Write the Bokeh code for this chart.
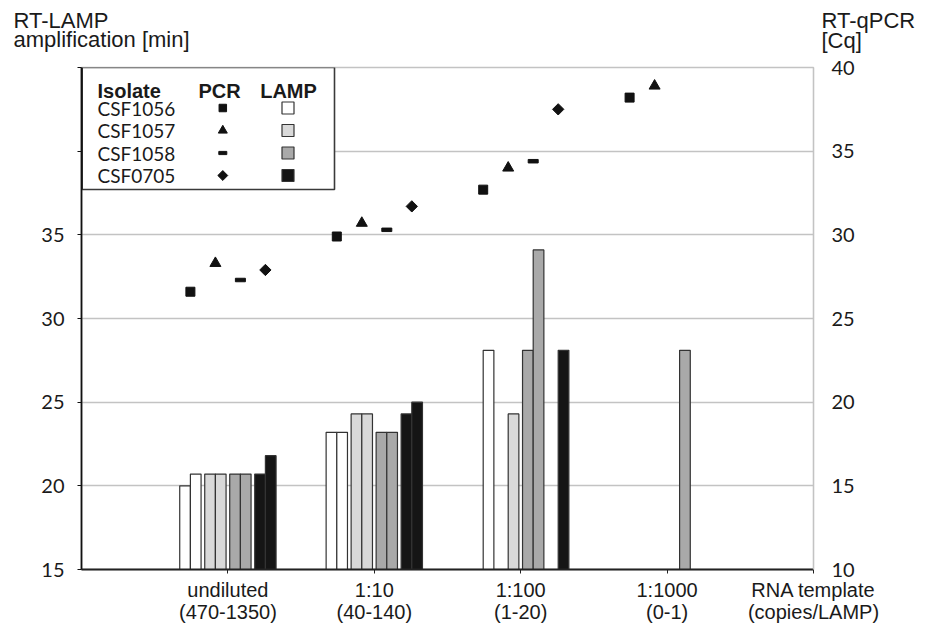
import numpy as np
from bokeh.plotting import figure
from bokeh.layouts import column
from bokeh.models import Range1d, LinearAxis, FixedTicker, ColumnDataSource
from bokeh.core.properties import value
from bokeh.embed import file_html
from bokeh.resources import INLINE

# ---------------- data ----------------
dilutions = ["undiluted\n(470-1350)", "1:10\n(40-140)", "1:100\n(1-20)", "1:1000\n(0-1)"]
template_label = "RNA template\n(copies/LAMP)"
isolates = ["CSF1056", "CSF1057", "CSF1058", "CSF0705"]
left_title = ["RT-LAMP", "amplification [min]"]
right_title = ["RT-qPCR", "[Cq]"]

# RT-LAMP amplification time [min], two replicates per isolate (None = no amplification)
lamp_csf1056_a = [20.0, 23.2, None, None]
lamp_csf1056_b = [20.7, 23.2, 28.1, None]
lamp_csf1057_a = [20.7, 24.3, None, None]
lamp_csf1057_b = [20.7, 24.3, 24.3, None]
lamp_csf1058_a = [20.7, 23.2, 28.1, None]
lamp_csf1058_b = [20.7, 23.2, 34.1, 28.1]
lamp_csf0705_a = [20.7, 24.3, None, None]
lamp_csf0705_b = [21.8, 25.0, 28.1, None]

# RT-qPCR Cq values
pcr_csf1056 = [26.6, 29.9, 32.7, 38.2]
pcr_csf1057 = [28.3, 30.7, 34.0, 38.9]
pcr_csf1058 = [27.3, 30.3, 34.4, None]
pcr_csf0705 = [27.9, 31.7, 37.5, None]

left_ticks = [15, 20, 25, 30, 35, 40, 45]
left_labels_hidden = [40, 45]
right_ticks = [10, 15, 20, 25, 30, 35, 40]

# ---------------- styling / layout ----------------
lamp_colors = ["#ffffff", "#d9d9d9", "#a9a9a9", "#151515"]
INK = "#1a1a1a"
GRID = "#c3c3c3"
MK = "#111111"

W = 917
TOP_H = 54
TOP_PAD = 13
FL, FW, FH = 81, 732, 502          # frame left / width / height (page px)
FT = TOP_H + TOP_PAD
FR, FB = FL + FW, FT + FH
XMIN, XMAX, YMIN, YMAX = 0.0, 5.0, 15.0, 45.0


def sx(px):
    return XMIN + (px - FL) / (FR - FL) * (XMAX - XMIN)


def sy(py):
    return YMIN + (FB - py) / (FB - FT) * (YMAX - YMIN)


ppu = FW / (XMAX - XMIN)
pair_step = 25.0 / ppu
bar_w = 10.67 / ppu

# ---------------- strip above the plot with the axis titles ----------------
t = figure(frame_width=W, frame_height=TOP_H, x_range=Range1d(0, W), y_range=Range1d(TOP_H, 0),
           min_border=0, x_axis_type=None, y_axis_type=None, output_backend="svg",
           toolbar_location=None, tools="")
t.frame_align = False
t.outline_line_color = None
t.xgrid.visible = False
t.ygrid.visible = False
t.text(x=[13, 13], y=[20, 39], text=left_title, text_align="left", text_baseline="alphabetic",
       text_font=value("Liberation Sans"), text_font_size="22px", text_color=INK)
t.text(x=[821, 821], y=[20, 40], text=right_title, text_align="left", text_baseline="alphabetic",
       text_font=value("Liberation Sans"), text_font_size="22px", text_color=INK)

# ---------------- main plot ----------------
p = figure(frame_width=FW, frame_height=FH,
           min_border_left=FL, min_border_right=W - FR, min_border_top=TOP_PAD, min_border_bottom=50,
           x_range=Range1d(XMIN, XMAX), y_range=Range1d(YMIN, YMAX),
           output_backend="svg", toolbar_location=None, tools="")
p.frame_align = False
p.extra_y_ranges = {"cq": Range1d(10, 40)}
p.background_fill_color = "white"
p.border_fill_color = "white"
p.outline_line_color = GRID
p.outline_line_width = 1.3

p.xgrid.visible = False
p.ygrid.ticker = FixedTicker(ticks=left_ticks)
p.ygrid.grid_line_color = GRID
p.ygrid.grid_line_width = 1.6

ya = p.yaxis[0]
ya.ticker = FixedTicker(ticks=left_ticks)
ya.major_label_overrides = {tk: "" for tk in left_labels_hidden}
ya.axis_line_color = "#111111"
ya.axis_line_width = 1.8
ya.major_tick_line_color = "#111111"
ya.major_tick_out = 4
ya.major_tick_in = 0
ya.minor_tick_line_color = None
ya.major_label_standoff = 13
ya.major_label_text_font = "Lato"
ya.major_label_text_font_size = "20px"
ya.major_label_text_color = INK

ra = LinearAxis(y_range_name="cq", ticker=FixedTicker(ticks=right_ticks))
ra.axis_line_color = GRID
ra.axis_line_width = 1.3
ra.major_tick_line_color = None
ra.minor_tick_line_color = None
ra.major_label_standoff = 12
ra.major_label_text_font = "Lato"
ra.major_label_text_font_size = "20px"
ra.major_label_text_color = INK
p.add_layout(ra, "right")

xa = p.xaxis[0]
xa.ticker = FixedTicker(ticks=[1, 2, 3, 4, 5])
overrides = {i + 1: lab for i, lab in enumerate(dilutions)}
overrides[5] = template_label
xa.major_label_overrides = overrides
xa.axis_line_color = "#222222"
xa.axis_line_width = 1.8
xa.major_tick_line_color = "#222222"
xa.major_tick_out = 4
xa.major_tick_in = 0
xa.minor_tick_line_color = None
xa.major_label_standoff = 5
xa.major_label_text_font = "Liberation Sans"
xa.major_label_text_font_size = "20px"
xa.major_label_text_color = INK
xa.major_label_text_line_height = 1.0

# bars (RT-LAMP)
lamp_series = [
    (lamp_csf1056_a, lamp_csf1056_b),
    (lamp_csf1057_a, lamp_csf1057_b),
    (lamp_csf1058_a, lamp_csf1058_b),
    (lamp_csf0705_a, lamp_csf0705_b),
]
for k, (rep_a, rep_b) in enumerate(lamp_series):
    pc = (k - 1.5) * pair_step
    for r, rep in enumerate((rep_a, rep_b)):
        off = pc + (r - 0.5) * bar_w
        xs = [i + 1 + off for i, v in enumerate(rep) if v is not None]
        ts = [v for v in rep if v is not None]
        src = ColumnDataSource(dict(x=xs, top=ts))
        p.vbar(x="x", top="top", bottom=YMIN, width=bar_w, source=src,
               fill_color=lamp_colors[k], line_color="#333333", line_width=1.2)

# points (RT-qPCR)
pcr_series = [pcr_csf1056, pcr_csf1057, pcr_csf1058, pcr_csf0705]
for k, ser in enumerate(pcr_series):
    pc = (k - 1.5) * pair_step
    xs = [i + 1 + pc for i, v in enumerate(ser) if v is not None]
    ys = [v for v in ser if v is not None]
    src = ColumnDataSource(dict(x=xs, y=ys))
    if k == 0:
        p.scatter("x", "y", source=src, marker="square", size=9, fill_color=MK, line_color=MK, y_range_name="cq")
    elif k == 1:
        p.scatter("x", "y", source=src, marker="triangle", size=11, fill_color=MK, line_color=MK, y_range_name="cq")
    elif k == 2:
        p.rect("x", "y", source=src, width=10, height=3.5, width_units="screen", height_units="screen",
               fill_color=MK, line_color=MK, y_range_name="cq")
    else:
        p.scatter("x", "y", source=src, marker="square", angle=np.pi / 4, size=8, fill_color=MK, line_color=MK,
                  y_range_name="cq")

# custom legend table
p.quad(left=[sx(81.7)], right=[sx(334)], top=[sy(FT)], bottom=[sy(189)],
       fill_color="white", line_color="#3a3a3a", line_width=1.6)
hdr_y = sy(90)
p.text(x=[sx(97)], y=[hdr_y], text=["Isolate"], text_align="left", text_baseline="alphabetic",
       text_font=value("Liberation Sans"), text_font_style="bold", text_font_size="20px", text_color=INK)
p.text(x=[sx(219), sx(288)], y=[hdr_y, hdr_y], text=["PCR", "LAMP"], text_align="center",
       text_baseline="alphabetic", text_font=value("Liberation Sans"), text_font_style="bold",
       text_font_size="20px", text_color=INK)
row_py = [107.5, 130, 152.5, 175]
row_y = [sy(v) for v in row_py]
p.text(x=[sx(97)] * 4, y=row_y, text=isolates, text_align="left", text_baseline="middle",
       text_font=value("Lato"), text_font_size="19px", text_color=INK)
mx = sx(222.3)
p.scatter([mx], [row_y[0]], marker="square", size=7.5, fill_color=MK, line_color=MK)
p.scatter([mx], [row_y[1]], marker="triangle", size=9, fill_color=MK, line_color=MK)
p.rect([mx], [row_y[2]], width=8, height=3.2, width_units="screen", height_units="screen",
       fill_color=MK, line_color=MK)
p.scatter([mx], [row_y[3]], marker="square", angle=np.pi / 4, size=7, fill_color=MK, line_color=MK)
lx = sx(287.5)
p.scatter([lx] * 4, row_y, marker="square", size=12, fill_color=lamp_colors,
          line_color="#333333", line_width=1.2)

layout = column(t, p, spacing=0)
open("out.html", "w").write(file_html(layout, INLINE))
